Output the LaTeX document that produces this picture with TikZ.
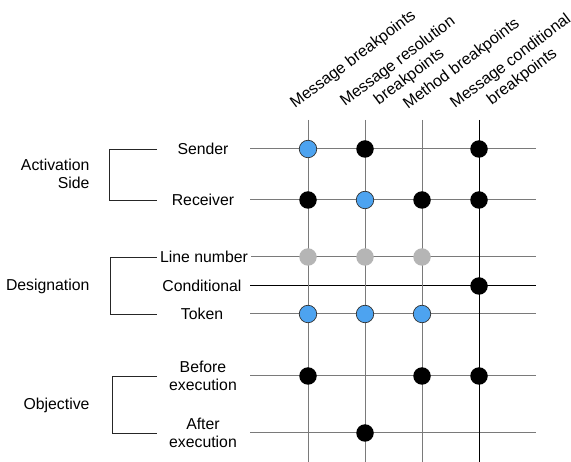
\documentclass[tikz,border=0pt]{standalone}
\usepackage{fontspec}
\setmainfont{Liberation Sans}
\usepackage{xcolor}
\usetikzlibrary{positioning}

\definecolor{dotblue}{HTML}{4DA3F0}
\definecolor{dotgrey}{HTML}{B5B5B5}
\definecolor{linegrey}{HTML}{7A7A7A}

\begin{document}
\begin{tikzpicture}
	[
		x=1pt, y=-1pt,
		every node/.style={font=\fontsize{15.8}{18}\selectfont},
		rowlabel/.style={align=center},
		grouplabel/.style={align=right, anchor=east},
		colhead/.style={rotate=37, anchor=base west, inner sep=0pt, font=\fontsize{16}{19}\selectfont},
		gridline/.style={draw=linegrey, line width=1pt},
		darkline/.style={draw=black, line width=1pt},
		bracket/.style={draw=black!85, line width=0.9pt},
		dot/.style={circle, minimum size=17.5pt, inner sep=0pt},
		bluedot/.style={dot, fill=dotblue, draw=black!80, line width=0.7pt},
		blackdot/.style={dot, fill=black},
		greydot/.style={dot, fill=dotgrey}
	]
	\useasboundingbox (0,0) rectangle (571,462);

	% column headers
	\node[colhead] (h-mb) at (295,109) {Message breakpoints};
	\node[colhead] (h-mrb) at (345,107) {\begin{tabular}[t]{@{}c@{}}Message resolution\\breakpoints\end{tabular}};
	\node[colhead] (h-meb) at (408,110) {Method breakpoints};
	\node[colhead] (h-mcb) at (455,109) {\begin{tabular}[t]{@{}c@{}}Message conditional\\breakpoints\end{tabular}};

	% column ends
	\foreach \name/\x in {mb/308, mrb/365, meb/422, mcb/479} {
		\coordinate (\name-top) at (\x,120);
		\coordinate (\name-bot) at (\x,462);
	}

	% row labels
	\node[rowlabel] (sender) at (203,149) {Sender};
	\node[rowlabel] (receiver) at (203,200) {Receiver};
	\node[rowlabel] (line) at (204,257) {Line number};
	\node[rowlabel] (cond) at (202,286) {Conditional};
	\node[rowlabel] (token) at (202,314) {Token};
	\node[rowlabel] (before) at (203,376) {Before\\execution};
	\node[rowlabel] (after) at (203,433) {After\\execution};

	% row ends
	\foreach \name/\y in {sender/149, receiver/200, line/257, cond/286, token/314, before/376, after/433} {
		\coordinate (\name-l) at (157,\y);
		\coordinate (\name-s) at (250,\y);
		\coordinate (\name-e) at (536,\y);
	}

	% group labels
	\node[grouplabel] (activation) at (93,174) {Activation\\Side};
	\node[grouplabel] (designation) at (93,286) {Designation};
	\node[grouplabel] (objective) at (93,405) {Objective};

	% brackets
	\draw[bracket] (sender-l) -- ++(-48,0) |- (receiver-l);
	\draw[bracket] (line.west) -- ++(-46,0) |- (token-l);
	\draw[bracket] (before-l) -- ++(-45,0) |- (after-l);

	% grid
	\draw[gridline] (sender-s) -- (sender-e);
	\draw[gridline] (receiver-s) -- (receiver-e);
	\draw[gridline] (line.east) -- (line-e);
	\draw[darkline] (cond-s) -- (cond-e);
	\draw[gridline] (token-s) -- (token-e);
	\draw[gridline] (before-s) -- (before-e);
	\draw[gridline] (after-s) -- (after-e);
	\draw[gridline] (mb-top) -- (mb-bot);
	\draw[gridline] (mrb-top) -- (mrb-bot);
	\draw[gridline] (meb-top) -- (meb-bot);
	\draw[darkline] (mcb-top) -- (mcb-bot);

	% dots
	\node[bluedot] (mb-sender) at (mb-top |- sender-e) {};
	\node[blackdot] (mrb-sender) at (mrb-top |- sender-e) {};
	\node[blackdot] (mcb-sender) at (mcb-top |- sender-e) {};
	\node[blackdot] (mb-receiver) at (mb-top |- receiver-e) {};
	\node[bluedot] (mrb-receiver) at (mrb-top |- receiver-e) {};
	\node[blackdot] (meb-receiver) at (meb-top |- receiver-e) {};
	\node[blackdot] (mcb-receiver) at (mcb-top |- receiver-e) {};
	\node[greydot] (mb-line) at (mb-top |- line-e) {};
	\node[greydot] (mrb-line) at (mrb-top |- line-e) {};
	\node[greydot] (meb-line) at (meb-top |- line-e) {};
	\node[blackdot] (mcb-cond) at (mcb-top |- cond-e) {};
	\node[bluedot] (mb-token) at (mb-top |- token-e) {};
	\node[bluedot] (mrb-token) at (mrb-top |- token-e) {};
	\node[bluedot] (meb-token) at (meb-top |- token-e) {};
	\node[blackdot] (mb-before) at (mb-top |- before-e) {};
	\node[blackdot] (meb-before) at (meb-top |- before-e) {};
	\node[blackdot] (mcb-before) at (mcb-top |- before-e) {};
	\node[blackdot] (mrb-after) at (mrb-top |- after-e) {};
\end{tikzpicture}
\end{document}
